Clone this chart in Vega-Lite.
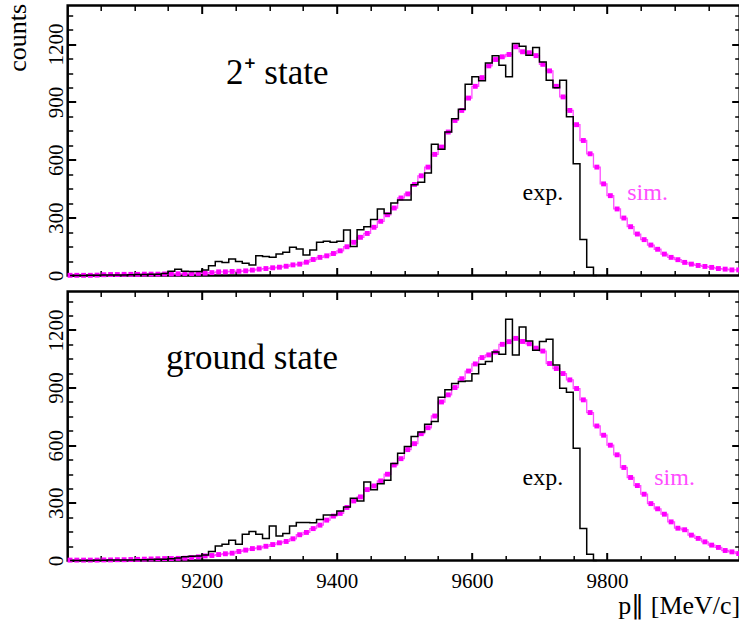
{
  "$schema": "https://vega.github.io/schema/vega-lite/v6.json",
  "autosize": {"type": "pad"},
  "padding": {"left": 2.7, "top": 1.5, "right": 0, "bottom": 0},
  "background": "white",
  "config": {
    "view": {"stroke": "black", "strokeWidth": 2.5},
    "axis": {"grid": false, "domain": false, "tickColor": "black", "labelColor": "black", "titleColor": "black", "labelFont": "Liberation Serif", "labelFontSize": 21, "titleFont": "Liberation Serif", "titleFontSize": 26, "titleFontWeight": "normal"},
    "text": {"font": "Liberation Serif"}
  },
  "datasets": {
    "h": [
      {"panel":"top","p":9005,"exp":0,"sim":1},{"panel":"top","p":9015,"exp":0,"sim":1},{"panel":"top","p":9025,"exp":0,"sim":1},{"panel":"top","p":9035,"exp":1,"sim":1},{"panel":"top","p":9045,"exp":1,"sim":2},
      {"panel":"top","p":9055,"exp":2,"sim":4},{"panel":"top","p":9065,"exp":2,"sim":5},{"panel":"top","p":9075,"exp":3,"sim":5},{"panel":"top","p":9085,"exp":3,"sim":6},{"panel":"top","p":9095,"exp":4,"sim":6},
      {"panel":"top","p":9105,"exp":5,"sim":6},{"panel":"top","p":9115,"exp":5,"sim":7},{"panel":"top","p":9125,"exp":6,"sim":7},{"panel":"top","p":9135,"exp":7,"sim":7},{"panel":"top","p":9145,"exp":10,"sim":8},
      {"panel":"top","p":9155,"exp":22,"sim":8},{"panel":"top","p":9165,"exp":33,"sim":9},{"panel":"top","p":9175,"exp":22,"sim":10},{"panel":"top","p":9185,"exp":21,"sim":10},{"panel":"top","p":9195,"exp":21,"sim":11},
      {"panel":"top","p":9205,"exp":28,"sim":12},{"panel":"top","p":9215,"exp":50,"sim":15},{"panel":"top","p":9225,"exp":73,"sim":19},{"panel":"top","p":9235,"exp":68,"sim":19},{"panel":"top","p":9245,"exp":85,"sim":21},
      {"panel":"top","p":9255,"exp":73,"sim":22},{"panel":"top","p":9265,"exp":64,"sim":24},{"panel":"top","p":9275,"exp":54,"sim":28},{"panel":"top","p":9285,"exp":102,"sim":33},{"panel":"top","p":9295,"exp":99,"sim":36},
      {"panel":"top","p":9305,"exp":94,"sim":40},{"panel":"top","p":9315,"exp":111,"sim":43},{"panel":"top","p":9325,"exp":120,"sim":48},{"panel":"top","p":9335,"exp":146,"sim":55},{"panel":"top","p":9345,"exp":137,"sim":59},
      {"panel":"top","p":9355,"exp":106,"sim":69},{"panel":"top","p":9365,"exp":132,"sim":83},{"panel":"top","p":9375,"exp":172,"sim":94},{"panel":"top","p":9385,"exp":177,"sim":102},{"panel":"top","p":9395,"exp":172,"sim":114},
      {"panel":"top","p":9405,"exp":177,"sim":128},{"panel":"top","p":9415,"exp":236,"sim":149},{"panel":"top","p":9425,"exp":150,"sim":172},{"panel":"top","p":9435,"exp":237,"sim":198},{"panel":"top","p":9445,"exp":253,"sim":218},
      {"panel":"top","p":9455,"exp":291,"sim":250},{"panel":"top","p":9465,"exp":345,"sim":281},{"panel":"top","p":9475,"exp":322,"sim":315},{"panel":"top","p":9485,"exp":376,"sim":350},{"panel":"top","p":9495,"exp":392,"sim":402},
      {"panel":"top","p":9505,"exp":392,"sim":423},{"panel":"top","p":9515,"exp":470,"sim":472},{"panel":"top","p":9525,"exp":484,"sim":517},{"panel":"top","p":9535,"exp":532,"sim":562},{"panel":"top","p":9545,"exp":680,"sim":628},
      {"panel":"top","p":9555,"exp":654,"sim":666},{"panel":"top","p":9565,"exp":744,"sim":744},{"panel":"top","p":9575,"exp":813,"sim":804},{"panel":"top","p":9585,"exp":862,"sim":856},{"panel":"top","p":9595,"exp":992,"sim":920},
      {"panel":"top","p":9605,"exp":1030,"sim":981},{"panel":"top","p":9615,"exp":1010,"sim":1026},{"panel":"top","p":9625,"exp":1102,"sim":1087},{"panel":"top","p":9635,"exp":1139,"sim":1120},{"panel":"top","p":9645,"exp":1090,"sim":1134},
      {"panel":"top","p":9655,"exp":1030,"sim":1146},{"panel":"top","p":9665,"exp":1203,"sim":1186},{"panel":"top","p":9675,"exp":1189,"sim":1160},{"panel":"top","p":9685,"exp":1142,"sim":1155},{"panel":"top","p":9695,"exp":1182,"sim":1140},
      {"panel":"top","p":9705,"exp":1107,"sim":1095},{"panel":"top","p":9715,"exp":1012,"sim":1061},{"panel":"top","p":9725,"exp":974,"sim":981},{"panel":"top","p":9735,"exp":1012,"sim":926},{"panel":"top","p":9745,"exp":823,"sim":856},
      {"panel":"top","p":9755,"exp":579,"sim":782},{"panel":"top","p":9765,"exp":187,"sim":700},{"panel":"top","p":9775,"exp":43,"sim":631},{"panel":"top","p":9785,"exp":0,"sim":562},{"panel":"top","p":9795,"sim":475},
      {"panel":"top","p":9805,"sim":414},{"panel":"top","p":9815,"sim":345},{"panel":"top","p":9825,"sim":298},{"panel":"top","p":9835,"sim":253},{"panel":"top","p":9845,"sim":215},
      {"panel":"top","p":9855,"sim":186},{"panel":"top","p":9865,"sim":158},{"panel":"top","p":9875,"sim":136},{"panel":"top","p":9885,"sim":111},{"panel":"top","p":9895,"sim":94},
      {"panel":"top","p":9905,"sim":82},{"panel":"top","p":9915,"sim":68},{"panel":"top","p":9925,"sim":59},{"panel":"top","p":9935,"sim":52},{"panel":"top","p":9945,"sim":47},
      {"panel":"top","p":9955,"sim":42},{"panel":"top","p":9965,"sim":36},{"panel":"top","p":9975,"sim":33},{"panel":"top","p":9985,"sim":29},{"panel":"top","p":9995,"sim":29},
      {"panel":"bottom","p":9005,"exp":0,"sim":2},{"panel":"bottom","p":9015,"exp":0,"sim":2},{"panel":"bottom","p":9025,"exp":0,"sim":2},{"panel":"bottom","p":9035,"exp":0,"sim":2},{"panel":"bottom","p":9045,"exp":1,"sim":2},
      {"panel":"bottom","p":9055,"exp":1,"sim":3},{"panel":"bottom","p":9065,"exp":2,"sim":3},{"panel":"bottom","p":9075,"exp":2,"sim":4},{"panel":"bottom","p":9085,"exp":3,"sim":4},{"panel":"bottom","p":9095,"exp":3,"sim":5},
      {"panel":"bottom","p":9105,"exp":4,"sim":6},{"panel":"bottom","p":9115,"exp":4,"sim":7},{"panel":"bottom","p":9125,"exp":5,"sim":8},{"panel":"bottom","p":9135,"exp":6,"sim":9},{"panel":"bottom","p":9145,"exp":7,"sim":10},
      {"panel":"bottom","p":9155,"exp":9,"sim":10},{"panel":"bottom","p":9165,"exp":13,"sim":11},{"panel":"bottom","p":9175,"exp":19,"sim":12},{"panel":"bottom","p":9185,"exp":22,"sim":16},{"panel":"bottom","p":9195,"exp":24,"sim":19},
      {"panel":"bottom","p":9205,"exp":29,"sim":24},{"panel":"bottom","p":9215,"exp":47,"sim":26},{"panel":"bottom","p":9225,"exp":76,"sim":31},{"panel":"bottom","p":9235,"exp":85,"sim":35},{"panel":"bottom","p":9245,"exp":106,"sim":38},
      {"panel":"bottom","p":9255,"exp":85,"sim":47},{"panel":"bottom","p":9265,"exp":137,"sim":54},{"panel":"bottom","p":9275,"exp":151,"sim":62},{"panel":"bottom","p":9285,"exp":137,"sim":66},{"panel":"bottom","p":9295,"exp":114,"sim":74},
      {"panel":"bottom","p":9305,"exp":180,"sim":83},{"panel":"bottom","p":9315,"exp":128,"sim":92},{"panel":"bottom","p":9325,"exp":140,"sim":99},{"panel":"bottom","p":9335,"exp":180,"sim":113},{"panel":"bottom","p":9345,"exp":198,"sim":134},
      {"panel":"bottom","p":9355,"exp":198,"sim":146},{"panel":"bottom","p":9365,"exp":196,"sim":166},{"panel":"bottom","p":9375,"exp":213,"sim":184},{"panel":"bottom","p":9385,"exp":237,"sim":210},{"panel":"bottom","p":9395,"exp":237,"sim":231},
      {"panel":"bottom","p":9405,"exp":258,"sim":245},{"panel":"bottom","p":9415,"exp":279,"sim":276},{"panel":"bottom","p":9425,"exp":324,"sim":310},{"panel":"bottom","p":9435,"exp":310,"sim":331},{"panel":"bottom","p":9445,"exp":409,"sim":369},
      {"panel":"bottom","p":9455,"exp":368,"sim":388},{"panel":"bottom","p":9465,"exp":400,"sim":414},{"panel":"bottom","p":9475,"exp":418,"sim":449},{"panel":"bottom","p":9485,"exp":505,"sim":497},{"panel":"bottom","p":9495,"exp":558,"sim":530},
      {"panel":"bottom","p":9505,"exp":593,"sim":577},{"panel":"bottom","p":9515,"exp":645,"sim":608},{"panel":"bottom","p":9525,"exp":669,"sim":660},{"panel":"bottom","p":9535,"exp":709,"sim":691},{"panel":"bottom","p":9545,"exp":723,"sim":752},
      {"panel":"bottom","p":9555,"exp":850,"sim":825},{"panel":"bottom","p":9565,"exp":889,"sim":862},{"panel":"bottom","p":9575,"exp":921,"sim":900},{"panel":"bottom","p":9585,"exp":931,"sim":946},{"panel":"bottom","p":9595,"exp":934,"sim":986},
      {"panel":"bottom","p":9605,"exp":972,"sim":1023},{"panel":"bottom","p":9615,"exp":1021,"sim":1056},{"panel":"bottom","p":9625,"exp":1036,"sim":1070},{"panel":"bottom","p":9635,"exp":1085,"sim":1085},{"panel":"bottom","p":9645,"exp":1073,"sim":1125},
      {"panel":"bottom","p":9655,"exp":1255,"sim":1139},{"panel":"bottom","p":9665,"exp":1069,"sim":1156},{"panel":"bottom","p":9675,"exp":1215,"sim":1140},{"panel":"bottom","p":9685,"exp":1142,"sim":1128},{"panel":"bottom","p":9695,"exp":1094,"sim":1105},
      {"panel":"bottom","p":9705,"exp":1140,"sim":1090},{"panel":"bottom","p":9715,"exp":1152,"sim":1025},{"panel":"bottom","p":9725,"exp":1017,"sim":999},{"panel":"bottom","p":9735,"exp":897,"sim":973},{"panel":"bottom","p":9745,"exp":875,"sim":940},
      {"panel":"bottom","p":9755,"exp":584,"sim":895},{"panel":"bottom","p":9765,"exp":167,"sim":836},{"panel":"bottom","p":9775,"exp":33,"sim":770},{"panel":"bottom","p":9785,"exp":0,"sim":700},{"panel":"bottom","p":9795,"sim":652},
      {"panel":"bottom","p":9805,"sim":600},{"panel":"bottom","p":9815,"sim":550},{"panel":"bottom","p":9825,"sim":484},{"panel":"bottom","p":9835,"sim":432},{"panel":"bottom","p":9845,"sim":390},
      {"panel":"bottom","p":9855,"sim":345},{"panel":"bottom","p":9865,"sim":296},{"panel":"bottom","p":9875,"sim":269},{"panel":"bottom","p":9885,"sim":241},{"panel":"bottom","p":9895,"sim":201},
      {"panel":"bottom","p":9905,"sim":168},{"panel":"bottom","p":9915,"sim":160},{"panel":"bottom","p":9925,"sim":132},{"panel":"bottom","p":9935,"sim":115},{"panel":"bottom","p":9945,"sim":97},
      {"panel":"bottom","p":9955,"sim":80},{"panel":"bottom","p":9965,"sim":68},{"panel":"bottom","p":9975,"sim":52},{"panel":"bottom","p":9985,"sim":45},{"panel":"bottom","p":9995,"sim":36}
    ],
    "panels": [
      {"panel":"top","label":"2⁺ state","p":9236,"counts":995},
      {"panel":"bottom","label":"ground state","p":9147,"counts":995}
    ],
    "notes": [
      {"panel":"top","label":"exp.","p":9675,"counts":394},
      {"panel":"top","label":"sim.","p":9830,"counts":394},
      {"panel":"bottom","label":"exp.","p":9675,"counts":394},
      {"panel":"bottom","label":"sim.","p":9870,"counts":394}
    ]
  },
  "vconcat": [
    {
      "width": 672, "height": 270,
      "resolve": {"axis": {"x": "independent", "y": "independent"}},
      "layer": [
        {
          "data": {"name": "h"},
          "transform": [{"filter": "datum.panel == 'top'"}],
          "mark": {"type": "line", "interpolate": "step", "color": "#ff4dff", "strokeWidth": 1.3},
          "encoding": {
            "x": {"field": "p", "type": "quantitative", "scale": {"domain": [9001.5, 9996.5], "nice": false, "zero": false},
                  "axis": {"orient": "bottom", "values": [9050,9100,9150,9250,9300,9350,9450,9500,9550,9650,9700,9750,9850,9900,9950], "tickSize": -5, "tickWidth": 1.5, "labels": false, "title": null}},
            "y": {"field": "sim", "type": "quantitative", "scale": {"domain": [0, 1400], "nice": false},
                  "axis": {"orient": "left", "values": [75,150,225,375,450,525,675,750,825,975,1050,1125,1275,1350], "tickSize": -5, "tickWidth": 1.5, "labels": false, "title": null}}
          }
        },
        {
          "data": {"name": "h"},
          "transform": [{"filter": "datum.panel == 'top'"}],
          "mark": {"type": "point", "shape": "square", "filled": true, "size": 24, "color": "#ff00ff", "opacity": 1},
          "encoding": {
            "x": {"field": "p", "type": "quantitative", "axis": {"orient": "top", "values": [9200,9400,9600,9800], "tickSize": -8, "tickWidth": 2, "labels": false, "title": null}},
            "y": {"field": "sim", "type": "quantitative", "axis": {"orient": "right", "values": [300,600,900,1200], "tickSize": -8, "tickWidth": 2, "labels": false, "title": null}}
          }
        },
        {
          "data": {"name": "h"},
          "transform": [{"filter": "datum.panel == 'top' && isValid(datum.exp)"}],
          "mark": {"type": "line", "interpolate": "step", "color": "black", "strokeWidth": 1.5},
          "encoding": {
            "x": {"field": "p", "type": "quantitative", "axis": {"orient": "bottom", "values": [9200,9400,9600,9800], "tickSize": -8, "tickWidth": 2, "labels": false, "title": null}},
            "y": {"field": "exp", "type": "quantitative",
                  "axis": {"orient": "left", "values": [0,300,600,900,1200], "format": "d", "tickSize": -8, "tickWidth": 2, "labelAngle": -90, "labelAlign": "center", "labelBaseline": "alphabetic", "labelPadding": 13, "labelFont": "Liberation Serif",
                           "title": "counts", "titleFont": "Liberation Serif", "titleAngle": -90, "titleX": -42, "titleY": -2, "titleAlign": "right", "titleBaseline": "alphabetic", "titleAnchor": null}}
          }
        },
        {
          "data": {"name": "panels"},
          "transform": [{"filter": "datum.panel == 'top'"}],
          "mark": {"type": "text", "align": "left", "baseline": "alphabetic", "fontSize": 35, "font": "Liberation Serif", "color": "black"},
          "encoding": {
            "x": {"field": "p", "type": "quantitative", "axis": {"orient": "top", "values": [9050,9100,9150,9250,9300,9350,9450,9500,9550,9650,9700,9750,9850,9900,9950], "tickSize": -5, "tickWidth": 1.5, "labels": false, "title": null}},
            "y": {"field": "counts", "type": "quantitative", "axis": {"orient": "right", "values": [75,150,225,375,450,525,675,750,825,975,1050,1125,1275,1350], "tickSize": -5, "tickWidth": 1.5, "labels": false, "title": null}},
            "text": {"field": "label"}
          }
        },
        {
          "data": {"name": "notes"},
          "transform": [{"filter": "datum.panel == 'top'"}],
          "mark": {"type": "text", "align": "left", "baseline": "alphabetic", "fontSize": 24, "font": "Liberation Serif"},
          "encoding": {
            "x": {"field": "p", "type": "quantitative", "axis": null},
            "y": {"field": "counts", "type": "quantitative", "axis": null},
            "text": {"field": "label"},
            "color": {"condition": {"test": "datum.label == 'sim.'", "value": "#ff4dff"}, "value": "black"}
          }
        }
      ]
    },
    {
      "width": 672, "height": 269,
      "resolve": {"axis": {"x": "independent", "y": "independent"}},
      "layer": [
        {
          "data": {"name": "h"},
          "transform": [{"filter": "datum.panel == 'bottom'"}],
          "mark": {"type": "line", "interpolate": "step", "color": "#ff4dff", "strokeWidth": 1.3},
          "encoding": {
            "x": {"field": "p", "type": "quantitative", "scale": {"domain": [9001.5, 9996.5], "nice": false, "zero": false},
                  "axis": {"orient": "bottom", "values": [9050,9100,9150,9250,9300,9350,9450,9500,9550,9650,9700,9750,9850,9900,9950], "tickSize": -5, "tickWidth": 1.5, "labels": false, "title": null}},
            "y": {"field": "sim", "type": "quantitative", "scale": {"domain": [0, 1400], "nice": false},
                  "axis": {"orient": "left", "values": [75,150,225,375,450,525,675,750,825,975,1050,1125,1275,1350], "tickSize": -5, "tickWidth": 1.5, "labels": false, "title": null}}
          }
        },
        {
          "data": {"name": "h"},
          "transform": [{"filter": "datum.panel == 'bottom'"}],
          "mark": {"type": "point", "shape": "square", "filled": true, "size": 24, "color": "#ff00ff", "opacity": 1},
          "encoding": {
            "x": {"field": "p", "type": "quantitative", "axis": {"orient": "top", "values": [9200,9400,9600,9800], "tickSize": -8, "tickWidth": 2, "labels": false, "title": null}},
            "y": {"field": "sim", "type": "quantitative", "axis": {"orient": "right", "values": [300,600,900,1200], "tickSize": -8, "tickWidth": 2, "labels": false, "title": null}}
          }
        },
        {
          "data": {"name": "h"},
          "transform": [{"filter": "datum.panel == 'bottom' && isValid(datum.exp)"}],
          "mark": {"type": "line", "interpolate": "step", "color": "black", "strokeWidth": 1.5},
          "encoding": {
            "x": {"field": "p", "type": "quantitative",
                  "axis": {"orient": "bottom", "values": [9200,9400,9600,9800], "format": "d", "tickSize": -8, "tickWidth": 2, "labelPadding": 18, "labelBaseline": "top", "labelFont": "Liberation Serif",
                           "title": "p∥  [MeV/c]", "titleFont": "Liberation Serif", "titleX": 672, "titleY": 53, "titleAlign": "right", "titleBaseline": "alphabetic", "titleAnchor": null}},
            "y": {"field": "exp", "type": "quantitative",
                  "axis": {"orient": "left", "values": [0,300,600,900,1200], "format": "d", "tickSize": -8, "tickWidth": 2, "labelAngle": -90, "labelAlign": "center", "labelBaseline": "alphabetic", "labelPadding": 13, "labelFont": "Liberation Serif", "title": null}}
          }
        },
        {
          "data": {"name": "panels"},
          "transform": [{"filter": "datum.panel == 'bottom'"}],
          "mark": {"type": "text", "align": "left", "baseline": "alphabetic", "fontSize": 35, "font": "Liberation Serif", "color": "black"},
          "encoding": {
            "x": {"field": "p", "type": "quantitative", "axis": {"orient": "top", "values": [9050,9100,9150,9250,9300,9350,9450,9500,9550,9650,9700,9750,9850,9900,9950], "tickSize": -5, "tickWidth": 1.5, "labels": false, "title": null}},
            "y": {"field": "counts", "type": "quantitative", "axis": {"orient": "right", "values": [75,150,225,375,450,525,675,750,825,975,1050,1125,1275,1350], "tickSize": -5, "tickWidth": 1.5, "labels": false, "title": null}},
            "text": {"field": "label"}
          }
        },
        {
          "data": {"name": "notes"},
          "transform": [{"filter": "datum.panel == 'bottom'"}],
          "mark": {"type": "text", "align": "left", "baseline": "alphabetic", "fontSize": 24, "font": "Liberation Serif"},
          "encoding": {
            "x": {"field": "p", "type": "quantitative", "axis": null},
            "y": {"field": "counts", "type": "quantitative", "axis": null},
            "text": {"field": "label"},
            "color": {"condition": {"test": "datum.label == 'sim.'", "value": "#ff4dff"}, "value": "black"}
          }
        }
      ]
    }
  ],
  "spacing": 16,
  "bounds": "flush"
}
